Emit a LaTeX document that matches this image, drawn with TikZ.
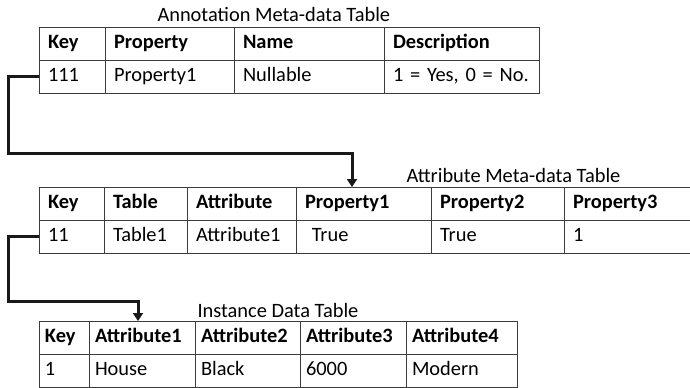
\documentclass[tikz,border=0pt]{standalone}
\usepackage{fontspec}
\setmainfont{Carlito}
\usetikzlibrary{positioning,arrows.meta}
\definecolor{tabline}{RGB}{60,60,60}
\tikzset{every picture/.style={line width=0.75pt}}
\tikzset{
  cell/.style={draw=tabline, anchor=north west, minimum height=24.75pt, text width=#1,
    text height=11pt, text depth=3.5pt, outer sep=0pt,
    inner xsep=6.75pt, inner ysep=0pt, align=left, font=\fontsize{15.3}{18}\selectfont},
  head/.style={cell=#1, font=\fontsize{15.3}{18}\selectfont\bfseries},
  title/.style={anchor=base west, inner sep=0pt, font=\fontsize{15.3}{18}\selectfont},
  link/.style={line width=2.25pt, black!90, -{Triangle[width=7.5pt,length=6pt]}}
}

\begin{document}
\begin{tikzpicture}[x=0.75pt,y=0.75pt,yscale=-1,xscale=1]
\useasboundingbox (0,0) rectangle (690,387);

%Table: annotation meta-data
\node[head=36pt] (ahd1) at (39,27) {Key};
\node[head=83.25pt, right=0pt of ahd1] (ahd2) {Property};
\node[head=99pt, right=0pt of ahd2] (ahd3) {Name};
\node[head=102.75pt, right=0pt of ahd3] (ahd4) {Description};
\node[cell=36pt, below=0pt of ahd1] (aval1) {111};
\node[cell=83.25pt, right=0pt of aval1] (aval2) {Property1};
\node[cell=99pt, right=0pt of aval2] (aval3) {Nullable};
\node[cell=102.75pt, right=0pt of aval3] (aval4) {1 = Yes, 0 = No.};
% Text Node
\node[title] (atitle) at (157,21) {Annotation Meta-data Table};

%Table: attribute meta-data
\node[head=35.25pt] (bhd1) at (39,187) {Key};
\node[head=48.75pt, right=0pt of bhd1] (bhd2) {Table};
\node[head=68.25pt, right=0pt of bhd2] (bhd3) {Attribute};
\node[head=87.75pt, right=0pt of bhd3] (bhd4) {Property1};
\node[head=86.25pt, right=0pt of bhd4] (bhd5) {Property2};
\node[head=84.75pt, right=0pt of bhd5] (bhd6) {Property3};
\node[cell=35.25pt, below=0pt of bhd1] (bval1) {11};
\node[cell=48.75pt, right=0pt of bval1] (bval2) {Table1};
\node[cell=68.25pt, right=0pt of bval2] (bval3) {Attribute1};
\node[cell=87.75pt, right=0pt of bval3] (bval4) {\ True};
\node[cell=86.25pt, right=0pt of bval4] (bval5) {True};
\node[cell=84.75pt, right=0pt of bval5] (bval6) {1};
% Text Node
\node[title] (btitle) at (406,182) {Attribute Meta-data Table};

%Table: instance data (tighter padding)
\begin{scope}[cell/.append style={inner xsep=4.5pt}]
\node[head=28.5pt] (chd1) at (39,321) {Key};
\node[head=70.5pt, right=0pt of chd1] (chd2) {Attribute1};
\node[head=69.75pt, right=0pt of chd2] (chd3) {Attribute2};
\node[head=70.5pt, right=0pt of chd3] (chd4) {Attribute3};
\node[head=74.25pt, right=0pt of chd4] (chd5) {Attribute4};
\node[cell=28.5pt, below=0pt of chd1] (cval1) {1};
\node[cell=70.5pt, right=0pt of cval1] (cval2) {House};
\node[cell=69.75pt, right=0pt of cval2] (cval3) {Black};
\node[cell=70.5pt, right=0pt of cval3] (cval4) {6000};
\node[cell=74.25pt, right=0pt of cval4] (cval5) {Modern};
\end{scope}
% Text Node
\node[title] (ctitle) at (197,317) {Instance Data Table};

%Connectors: key references
\coordinate (rail) at (8,0);
\coordinate (bend1) at (352,153);
\coordinate (bend2) at (138,301);
\draw[link] (aval1.west) -- (aval1.west -| rail) |- (bend1) -- (bend1 |- bhd4.north);
\draw[link] (bval1.west) -- (bval1.west -| rail) |- (bend2) -- (bend2 |- chd2.north);

\end{tikzpicture}
\end{document}
